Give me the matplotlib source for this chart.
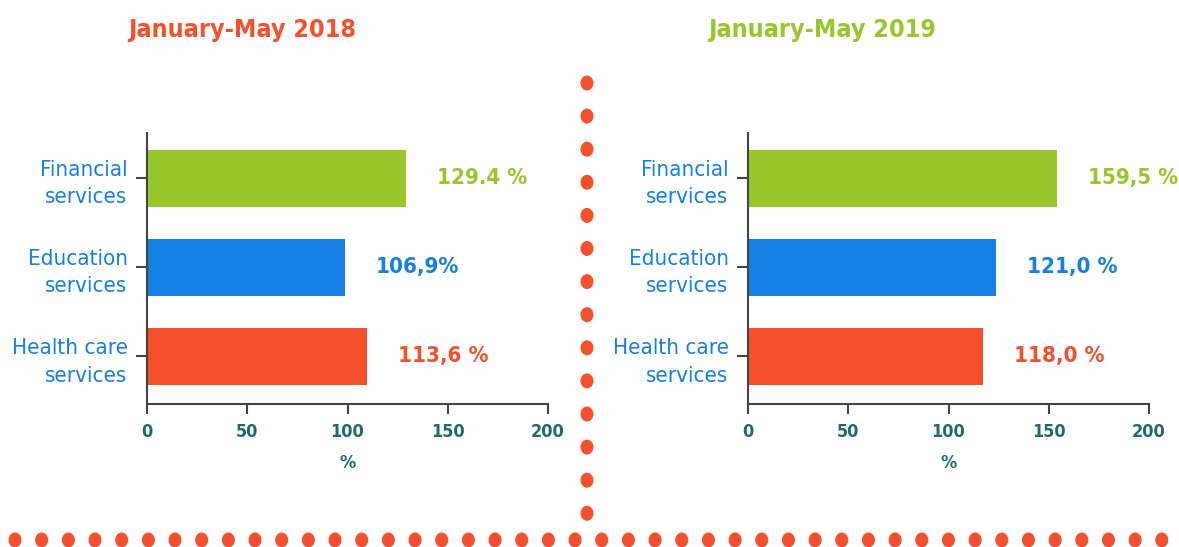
import matplotlib
matplotlib.use("Agg")
import matplotlib.pyplot as plt
from matplotlib.patches import Ellipse

plt.rcParams['font.family'] = ['Liberation Sans Narrow', 'DejaVu Sans Condensed', 'DejaVu Sans']
plt.rcParams['font.stretch'] = 'condensed'

# data
categories = ["Health care\nservices", "Education\nservices", "Financial\nservices"]
titles = ["January-May 2018", "January-May 2019"]
bars_2018 = [109.7, 99.0, 129.4]
bars_2019 = [117.2, 123.7, 154.1]
labels_2018 = ["113,6 %", "106,9%", "129.4 %"]
labels_2019 = ["118,0 %", "121,0 %", "159,5 %"]
xticks = [0, 50, 100, 150, 200]

RED = "#F5502C"
GREEN = "#97C72B"
BLUE = "#1480E6"
TEAL = "#1D6B6B"
AXC = "#444444"
bar_colors = [RED, BLUE, GREEN]
title_colors = [RED, GREEN]

W, H = 1179, 547
fig = plt.figure(figsize=(W / 100, H / 100), dpi=100)


def px_axes(x0, y0, x1, y1):
    # pixel box (top-left origin) -> figure axes
    return fig.add_axes([x0 / W, 1 - y1 / H, (x1 - x0) / W, (y1 - y0) / H])


def panel(x0, values, labels, title, tcolor, tx):
    ax = px_axes(x0, 133, x0 + 401, 404)
    ypos = range(len(categories))
    ax.barh(ypos, values, height=0.64, color=bar_colors)
    ax.set_xlim(0, 200)
    ax.set_ylim(-0.534, 2.506)
    ax.set_xticks(xticks)
    ax.set_yticks(list(ypos))
    ax.set_yticklabels(categories, color=BLUE, fontsize=16, linespacing=1.45)
    ax.tick_params(axis='y', length=8, width=1.5, color=AXC, pad=6)
    ax.tick_params(axis='x', length=7, width=1.5, color=AXC, labelcolor=TEAL,
                   labelsize=13, pad=7)
    for lab in ax.get_xticklabels():
        lab.set_fontweight('bold')
    for s in ['top', 'right']:
        ax.spines[s].set_visible(False)
    for s in ['left', 'bottom']:
        ax.spines[s].set_color(AXC)
        ax.spines[s].set_linewidth(1.5)
    ax.set_xlabel("%", color=TEAL, fontsize=13, fontweight='bold', labelpad=9)
    for y, v, t, c in zip(ypos, values, labels, bar_colors):
        ax.annotate(t, (v, y), xytext=(22, 0), textcoords='offset points',
                    ha='left', va='center', color=c, fontsize=16, fontweight='bold')
    fig.text(tx / W, 1 - 30 / H, title, color=tcolor, fontsize=18,
             fontweight='bold', ha='center', va='center')
    return ax


panel(147, bars_2018, labels_2018, titles[0], title_colors[0], 242)
panel(748, bars_2019, labels_2019, titles[1], title_colors[1], 822)

# dotted separators
deco = fig.add_axes([0, 0, 1, 1], zorder=-1)
deco.set_xlim(0, W)
deco.set_ylim(H, 0)
deco.axis('off')
for i in range(14):
    deco.add_patch(Ellipse((587, 83 + i * 33.1), 13, 15, color=RED, lw=0))
for i in range(44):
    deco.add_patch(Ellipse((15 + i * 26.67, 540), 13, 15, color=RED, lw=0))

fig.savefig("out.png", dpi=100)
